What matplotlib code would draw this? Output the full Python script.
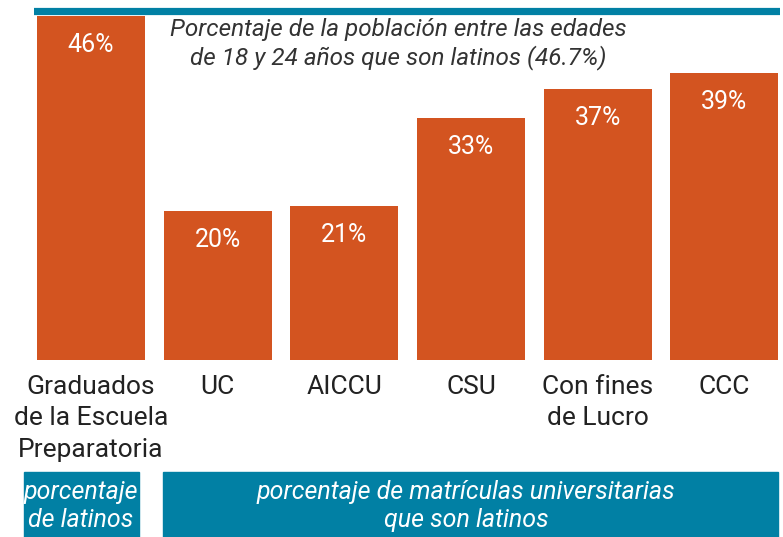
import matplotlib.pyplot as plt
from matplotlib.patches import Rectangle

plt.rcParams['font.family'] = ['Roboto', 'DejaVu Sans']

# data
categories = ['Graduados\nde la Escuela\nPreparatoria', 'UC', 'AICCU', 'CSU',
              'Con fines\nde Lucro', 'CCC']
values = [46.0, 19.9, 20.6, 32.4, 36.3, 38.4]
value_labels = ['46%', '20%', '21%', '33%', '37%', '39%']
pop_share = 46.7
pop_text = 'Porcentaje de la población entre las edades\nde 18 y 24 años que son latinos (46.7%)'
box_left_text = 'porcentaje\nde latinos'
box_right_text = 'porcentaje de matrículas universitarias\nque son latinos'

orange = '#D35420'
blue = '#0180A4'

fig = plt.figure(figsize=(7.83, 5.37), dpi=100)
W, H = 783, 537
# axes from x=34..780 px, y=360..5 px
ax = fig.add_axes([34 / W, (H - 360) / H, (780 - 34) / W, 355 / H])

x = list(range(len(values)))
ax.bar(x, values, width=0.853, color=orange, zorder=2)
ax.axhline(pop_share, color=blue, lw=5.2, zorder=3)

ax.set_xlim(-0.45, 5.44)
ax.set_ylim(0, 355 / 7.478)
ax.axis('off')

for xi, v, lab in zip(x, values, value_labels):
    ax.annotate(lab, (xi, v), xytext=(0, -21), textcoords='offset points',
                ha='center', va='center', color='white', fontsize=18)

for xi, cat in zip(x, categories):
    ax.annotate(cat, (xi, 0), xytext=(0, -11), textcoords='offset points',
                ha='center', va='top', color='#222222', fontsize=19,
                linespacing=1.38)

fig.text(398 / W, 1 - 44 / H, pop_text, ha='center', va='center',
         fontsize=17.5, style='italic', color='#333333', linespacing=1.2)

# bottom boxes
fig.patches.append(Rectangle((24 / W, 0), (139 - 24) / W, (537 - 472) / H,
                             transform=fig.transFigure, color=blue))
fig.patches.append(Rectangle((163 / W, 0), (778 - 163) / W, (537 - 472) / H,
                             transform=fig.transFigure, color=blue))
fig.text(81 / W, 1 - 506 / H, box_left_text, ha='center', va='center',
         fontsize=18, style='italic', color='white', linespacing=1.2)
fig.text(466 / W, 1 - 506 / H, box_right_text, ha='center', va='center',
         fontsize=18, style='italic', color='white', linespacing=1.2)

fig.savefig('out.png', dpi=100)
